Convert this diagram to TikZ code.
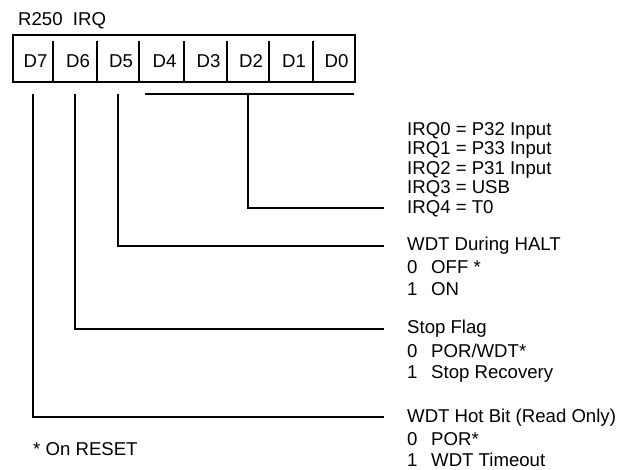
\documentclass[tikz,border=0pt]{standalone}
\usepackage{fontspec}
\setmainfont{Liberation Sans}
\usepackage{tikz}
\usetikzlibrary{positioning,calc}
\tikzset{
  lbl/.style={inner sep=0pt, font=\fontsize{18.6}{19.4}\selectfont},
  hdr/.style={lbl, anchor=base west},
  bitlbl/.style={lbl, anchor=base},
  wire/.style={line width=2pt, draw=black},
}
\newcommand{\bitopt}[2]{\makebox[24pt][l]{#1}#2}

\begin{document}
\begin{tikzpicture}[x=1pt,y=-1pt]
    \useasboundingbox (0,0) rectangle (637,470);
    % register
    \node[lbl, anchor=base west] (title) at (18,26) {R250\ \ IRQ};
    \node[wire, draw, minimum width=342pt, minimum height=47pt, anchor=north west] (reg) at (12,34) {};
    \foreach \x in {53,97,139,184,227,269,313}
      \draw[wire] (\x,41) -- (\x,81);
    \foreach \i/\x in {7/32.5,6/75,5/118,4/161.5,3/205.5,2/248,1/291,0/333.5} {
      \coordinate (c\i) at (\x,57.5);
      \node[bitlbl] (b\i) at (\x+3,67.5) {D\i};
    }
    % descriptions
    \foreach \s [count=\k from 0] in {P32 Input,P33 Input,P31 Input,USB,T0}
      \node[hdr] (irq\k) at (407,135.5+19.4*\k) {IRQ\k\ = \s};
    \node[hdr] (halt) at (407,251) {WDT During HALT};
    \node[hdr] (halt0) at ($(halt.base west)+(0,23)$) {\bitopt{0}{OFF *}};
    \node[hdr] (halt1) at ($(halt.base west)+(0,44.5)$) {\bitopt{1}{ON}};
    \node[hdr] (stop) at (407,334) {Stop Flag};
    \node[hdr] (stop0) at ($(stop.base west)+(0,23)$) {\bitopt{0}{POR/WDT*}};
    \node[hdr] (stop1) at ($(stop.base west)+(0,44.5)$) {\bitopt{1}{Stop Recovery}};
    \node[hdr] (hot) at (407,422) {WDT Hot Bit (Read Only)};
    \node[hdr] (hot0) at ($(hot.base west)+(0,23)$) {\bitopt{0}{POR*}};
    \node[hdr] (hot1) at ($(hot.base west)+(0,44.5)$) {\bitopt{1}{WDT Timeout}};
    \node[hdr] (note) at (33,455) {* On RESET};
    % connectors
    \coordinate (bar) at (0,94);
    \coordinate (barL) at (145,94);
    \coordinate (barR) at (354,94);
    \coordinate (e2) at ($(irq4.base west)+(-23,-5)$);
    \coordinate (e5) at ($(halt.base west)+(-23,-5)$);
    \coordinate (e6) at ($(stop.base west)+(-23,-5)$);
    \coordinate (e7) at ($(hot.base west)+(-23,-5)$);
    \draw[wire] (barL) -- (barR);
    \draw[wire] (c2 |- bar) |- (e2);
    \draw[wire] (c5 |- bar) |- (e5);
    \draw[wire] (c6 |- bar) |- (e6);
    \draw[wire] (c7 |- bar) |- (e7);
\end{tikzpicture}
\end{document}
